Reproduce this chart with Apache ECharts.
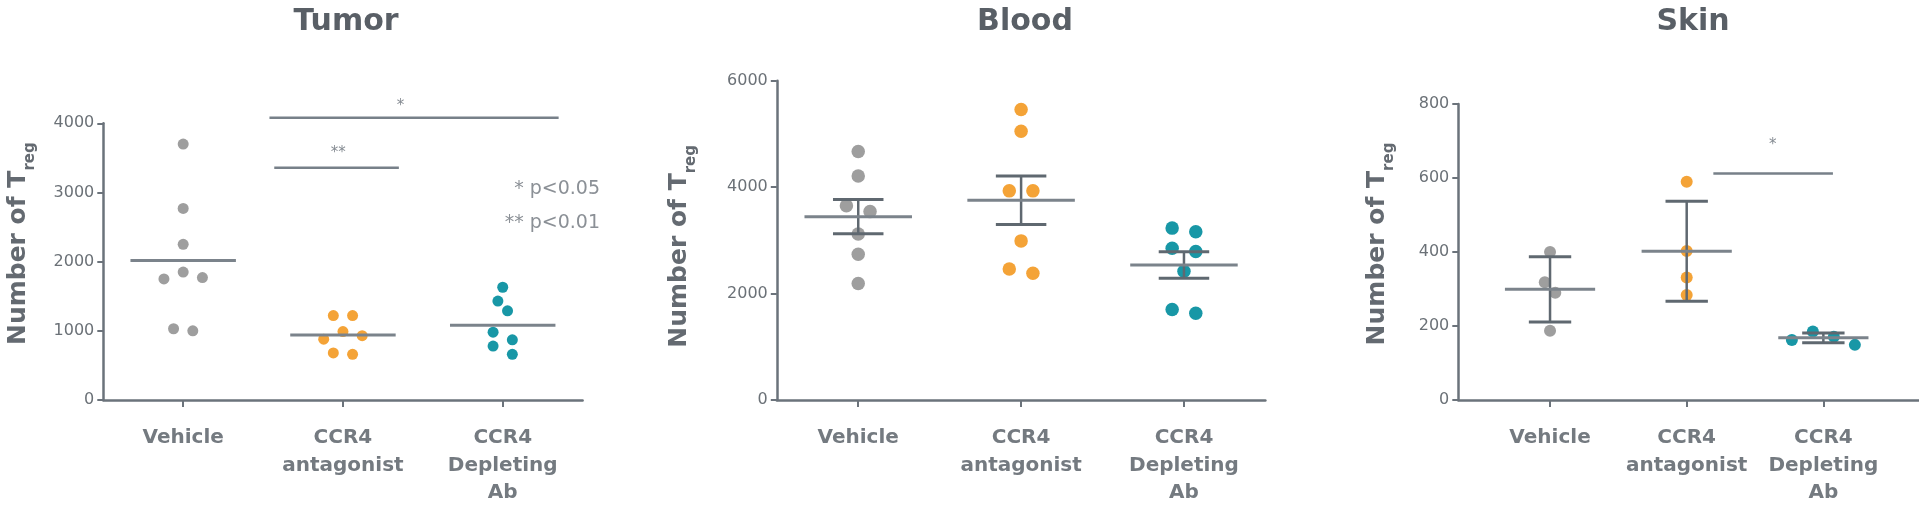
<!DOCTYPE html>
<html>
<head>
<meta charset="utf-8">
<script src="https://cdn.jsdelivr.net/npm/echarts@6/dist/echarts.min.js"></script>
<style>
html,body{margin:0;padding:0;background:#fff;}
#chart{width:1919px;height:513px;}
</style>
</head>
<body>
<div id="chart"></div>
<script>
// ---------- data ----------
const panelTitles = ['Tumor', 'Blood', 'Skin'];
const categories = ['Vehicle', 'CCR4\nantagonist', 'CCR4\nDepleting\nAb'];
const yAxisName = 'Number of T';
const yAxisSub = 'reg';

const tumorTicks = { min: 0, max: 4000, interval: 1000 };
const bloodTicks = { min: 0, max: 6000, interval: 2000 };
const skinTicks = { min: 0, max: 800, interval: 200 };

const tumorVehicle = [3700, 2770, 2250, 1850, 1770, 1750, 1030, 1000];
const tumorAntagonist = [1220, 1220, 990, 930, 880, 680, 660];
const tumorDepleting = [1630, 1430, 1290, 980, 870, 780, 660];
const tumorMean = [2015, 940, 1080];

const bloodVehicle = [4670, 4210, 3650, 3540, 3120, 2740, 2190];
const bloodAntagonist = [5460, 5050, 3930, 3930, 2990, 2460, 2380];
const bloodDepleting = [3230, 3160, 2850, 2790, 2420, 1700, 1630];
const bloodMean = [3445, 3752, 2537];
const bloodSEM = [323, 455, 250];

const skinVehicle = [400, 318, 290, 187];
const skinAntagonist = [590, 403, 331, 284];
const skinDepleting = [185, 171, 162, 149];
const skinMean = [299, 402, 168];
const skinSD = [88, 135, 13];

// significance bars: span and label spot in category units, bar level, label level
const tumorBrackets = [
  { from: 0.54, to: 2.35, labelAt: 1.36, value: 4080, labelValue: 4250, label: '*' },
  { from: 0.57, to: 1.35, labelAt: 0.97, value: 3358, labelValue: 3570, label: '**' }
];
const skinBrackets = [
  { from: 1.195, to: 2.07, labelAt: 1.63, value: 612, labelValue: 690, label: '*' }
];
const pLegend = '* p<0.05\n** p<0.01';

// ---------- style ----------
const FONT = 'DejaVu Sans';
const groupColors = ['#9e9e9e', '#f4a337', '#1897a6'];
const axisColor = '#6b737b';
const meanColor = '#7b838b';
const errColor = '#5f6870';

// ---------- helpers ----------
function swarm(ys, d) {
  const minDist = d * 1.2, step = d * 0.875;
  const order = ys.map((y, i) => i).sort((a, b) => ys[a] - ys[b]);
  const xs = new Array(ys.length).fill(0);
  const placed = [];
  for (const i of order) {
    for (let k = 0; k < 40; k++) {
      const cand = Math.ceil(k / 2) * step * (k % 2 ? 1 : -1);
      if (placed.every(j => Math.hypot(xs[j] - cand, ys[j] - ys[i]) >= minDist - 1e-6)) { xs[i] = cand; break; }
    }
    placed.push(i);
  }
  let start = 0;
  for (let k = 1; k <= order.length; k++) {
    if (k === order.length || ys[order[k]] - ys[order[k - 1]] >= minDist) {
      const grp = order.slice(start, k);
      const xsG = grp.map(j => xs[j]);
      const sh = -(Math.min(...xsG) + Math.max(...xsG)) / 2;
      grp.forEach(j => { xs[j] += sh; });
      start = k;
    }
  }
  return xs;
}

function dotSeries(axisIdx, cat, values, color, size) {
  return {
    type: 'custom', coordinateSystem: 'cartesian2d',
    xAxisIndex: axisIdx, yAxisIndex: axisIdx, z: 3, clip: false,
    data: values.map(v => [cat, v]),
    renderItem: (params, api) => {
      const ctx = params.context;
      if (!ctx.offsets) ctx.offsets = swarm(values.map(v => api.coord([cat, v])[1]), size);
      const p = api.coord([api.value(0), api.value(1)]);
      return { type: 'circle', shape: { cx: p[0] + ctx.offsets[params.dataIndex], cy: p[1], r: size / 2 }, style: { fill: color } };
    }
  };
}

function statSeries(axisIdx, means, errs) {
  return {
    type: 'custom', coordinateSystem: 'cartesian2d',
    xAxisIndex: axisIdx, yAxisIndex: axisIdx, z: 5, clip: false,
    data: means.map((m, i) => [i, m, errs ? errs[i] : 0]),
    renderItem: (params, api) => {
      const i = api.value(0), m = api.value(1), e = api.value(2);
      const c = api.coord([i, m]);
      const band = api.size([1, 0])[0];
      const children = [{
        type: 'line', z2: 2,
        shape: { x1: c[0] - 0.33 * band, y1: c[1], x2: c[0] + 0.33 * band, y2: c[1] },
        style: { stroke: meanColor, lineWidth: 3 }
      }];
      if (e) {
        const hi = api.coord([i, m + e])[1], lo = api.coord([i, m - e])[1];
        const cw = 0.155 * band;
        children.push(
          { type: 'line', shape: { x1: c[0], y1: hi, x2: c[0], y2: lo }, style: { stroke: errColor, lineWidth: 2.5 } },
          { type: 'line', shape: { x1: c[0] - cw, y1: hi, x2: c[0] + cw, y2: hi }, style: { stroke: errColor, lineWidth: 3 } },
          { type: 'line', shape: { x1: c[0] - cw, y1: lo, x2: c[0] + cw, y2: lo }, style: { stroke: errColor, lineWidth: 3 } }
        );
      }
      return { type: 'group', children };
    }
  };
}

function bracketSeries(axisIdx, brackets) {
  return {
    type: 'custom', coordinateSystem: 'cartesian2d',
    xAxisIndex: axisIdx, yAxisIndex: axisIdx, z: 5, clip: false,
    data: brackets.map(b => [0, b.value]),
    renderItem: (params, api) => {
      const b = brackets[params.dataIndex];
      const c0 = api.coord([0, b.value]);
      const band = api.size([1, 0])[0];
      const x1 = c0[0] + b.from * band, x2 = c0[0] + b.to * band;
      const lx = c0[0] + b.labelAt * band;
      const ly = api.coord([0, b.labelValue])[1];
      return {
        type: 'group', children: [
          { type: 'line', shape: { x1, y1: c0[1], x2, y2: c0[1] }, style: { stroke: '#778089', lineWidth: 2.5 } },
          { type: 'text', style: { text: b.label, x: lx, y: ly, align: 'center', verticalAlign: 'middle', font: '15px "' + FONT + '"', fill: '#858b92' } }
        ]
      };
    }
  };
}

const tickLabel = { color: '#6b7177', fontFamily: FONT, fontSize: 16, margin: 9, formatter: v => String(v) };
const catLabel = { color: '#747a80', fontFamily: FONT, fontSize: 20, fontWeight: 'bold', lineHeight: 27.7, margin: 24, interval: 0 };

function yNameStyle(padding) {
  return {
    color: '#646a71', fontFamily: FONT, fontSize: 25, fontWeight: 'bold', lineHeight: 38, padding,
    rich: { sub: { fontFamily: FONT, fontSize: 15, fontWeight: 'bold', lineHeight: 14, verticalAlign: 'bottom', color: '#646a71' } }
  };
}

function catAxis(gridIndex, showLine) {
  return {
    type: 'category', gridIndex, data: categories, boundaryGap: true,
    axisLine: { show: showLine, lineStyle: { color: axisColor, width: 2.5 } },
    axisTick: { show: true, alignWithLabel: true, length: 7, lineStyle: { color: axisColor, width: 2 } },
    axisLabel: catLabel, splitLine: { show: false }
  };
}

function valAxis(gridIndex, ticks, nameGap, padding) {
  return {
    type: 'value', gridIndex, min: ticks.min, max: ticks.max, interval: ticks.interval,
    name: yAxisName + '{sub|' + yAxisSub + '}', nameLocation: 'middle', nameGap, nameTextStyle: yNameStyle(padding),
    axisLine: { show: true, lineStyle: { color: axisColor, width: 2.5 } },
    axisTick: { show: true, length: 6, lineStyle: { color: axisColor, width: 2 } },
    axisLabel: tickLabel, splitLine: { show: false }
  };
}

const titleStyle = { color: '#595f66', fontFamily: FONT, fontSize: 30, fontWeight: 'bold', lineHeight: 34 };

const option = {
  backgroundColor: '#ffffff',
  animation: false,
  title: [
    { text: panelTitles[0], left: 346, top: 5, textAlign: 'center', padding: 0, textStyle: titleStyle },
    { text: panelTitles[1], left: 1025, top: 5, textAlign: 'center', padding: 0, textStyle: titleStyle },
    { text: panelTitles[2], left: 1693, top: 5, textAlign: 'center', padding: 0, textStyle: titleStyle },
    { text: pLegend, left: 600, top: 172, textAlign: 'right', padding: 0,
      textStyle: { color: '#8b9096', fontFamily: FONT, fontSize: 19, fontWeight: 'normal', lineHeight: 34, align: 'right' } }
  ],
  grid: [
    { left: 103.3, top: 123.3, width: 479.3, height: 276.7, outerBoundsMode: 'none', containLabel: false },
    { left: 776.8, top: 80.7, width: 488.6, height: 319.3, outerBoundsMode: 'none', containLabel: false },
    { left: 1458.3, top: 104, width: 461, height: 296, outerBoundsMode: 'none', containLabel: false },
    { left: 1481.7, top: 104, width: 410, height: 296, outerBoundsMode: 'none', containLabel: false }
  ],
  xAxis: [
    catAxis(0, true),
    catAxis(1, true),
    { type: 'value', gridIndex: 2, min: 0, max: 1, axisLine: { show: true, lineStyle: { color: axisColor, width: 2.5 } },
      axisTick: { show: false }, axisLabel: { show: false }, splitLine: { show: false } },
    catAxis(3, false)
  ],
  yAxis: [
    valAxis(0, tumorTicks, 66, [0, 0, 0, 36]),
    valAxis(1, bloodTicks, 78, [0, 12, 0, 0]),
    valAxis(2, skinTicks, 62, [0, 0, 0, 16]),
    { type: 'value', gridIndex: 3, min: skinTicks.min, max: skinTicks.max, show: false, splitLine: { show: false } }
  ],
  series: [
    dotSeries(0, 0, tumorVehicle, groupColors[0], 11),
    dotSeries(0, 1, tumorAntagonist, groupColors[1], 11),
    dotSeries(0, 2, tumorDepleting, groupColors[2], 11),
    statSeries(0, tumorMean, null),
    bracketSeries(0, tumorBrackets),

    dotSeries(1, 0, bloodVehicle, groupColors[0], 13.5),
    dotSeries(1, 1, bloodAntagonist, groupColors[1], 13.5),
    dotSeries(1, 2, bloodDepleting, groupColors[2], 13.5),
    statSeries(1, bloodMean, bloodSEM),

    dotSeries(3, 0, skinVehicle, groupColors[0], 12),
    dotSeries(3, 1, skinAntagonist, groupColors[1], 12),
    dotSeries(3, 2, skinDepleting, groupColors[2], 12),
    statSeries(3, skinMean, skinSD),
    bracketSeries(3, skinBrackets)
  ]
};

const chart = echarts.init(document.getElementById('chart'), null, { renderer: 'canvas' });
chart.setOption(option);
</script>
</body>
</html>
